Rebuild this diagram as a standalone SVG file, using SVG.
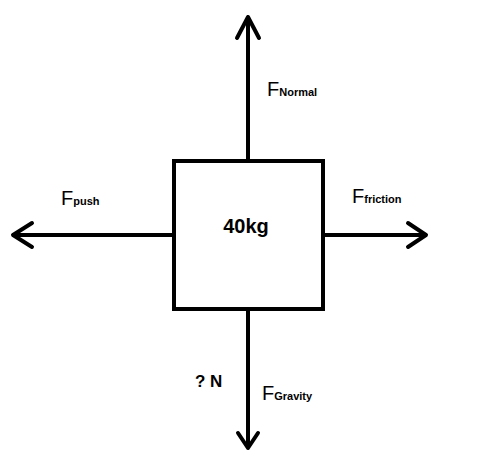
<svg xmlns="http://www.w3.org/2000/svg" width="499" height="471" viewBox="0 0 499 471">
<style>
.ln{stroke:#000;stroke-width:4;fill:none;stroke-linecap:round;stroke-linejoin:round}
.big{font-family:"Liberation Sans",Arial,sans-serif;font-size:20px;fill:#000}
.sub{font-size:11px;font-weight:bold}
.lbl{font-family:"Liberation Sans",Arial,sans-serif;font-weight:bold;fill:#000}
</style>
<rect width="499" height="471" fill="#fff"/>
<g id="connectors">
<path class="ln" d="M248 159V17M237 38L248 17L259 38"/>
<path class="ln" d="M172 235H13M32 223L13 235L32 247"/>
<path class="ln" d="M325 235H426M408 223L426 235L408 247"/>
<path class="ln" d="M248 311V448M238 433L248 448L258 433"/>
</g>
<g id="box">
<rect x="174" y="161" width="149" height="148" fill="#fff" stroke="#000" stroke-width="4"/>
<text class="lbl" x="246" y="233" font-size="20" text-anchor="middle">40kg</text>
</g>
<g id="normal"><text class="big" x="267" y="96">F<tspan class="sub">Normal</tspan></text></g>
<g id="push"><text class="big" x="61" y="205">F<tspan class="sub">push</tspan></text></g>
<g id="friction"><text class="big" x="352" y="203">F<tspan class="sub">friction</tspan></text></g>
<g id="gravity"><text class="big" x="262" y="400">F<tspan class="sub">Gravity</tspan></text></g>
<g id="unknown"><text class="lbl" x="195" y="387" font-size="17">? N</text></g>
</svg>
